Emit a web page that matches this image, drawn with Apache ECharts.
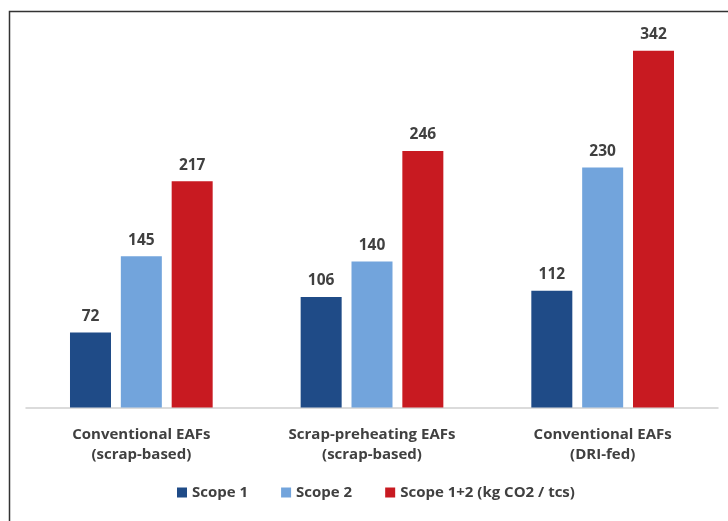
<!DOCTYPE html>
<html>
<head>
<meta charset="utf-8">
<script src="https://cdn.jsdelivr.net/npm/echarts@6/dist/echarts.min.js"></script>
<style>
  html, body { margin: 0; padding: 0; background: #ffffff; }
  #chart { width: 728px; height: 521px; }
</style>
</head>
<body>
<div id="chart"></div>
<script>
// Categories (two-line labels) and emission values per scope
const categories = [
  'Conventional EAFs\n(scrap-based)',
  'Scrap-preheating EAFs\n(scrap-based)',
  'Conventional EAFs\n(DRI-fed)'
];
const scope1 = [72, 106, 112];
const scope2 = [145, 140, 230];
const scope12 = [217, 246, 342];
const seriesNames = ['Scope 1', 'Scope 2', 'Scope 1+2 (kg CO2 / tcs)'];

const FONT = 'Open Sans';
const TEXT = '#404040';

const chart = echarts.init(document.getElementById('chart'), null, { renderer: 'canvas' });

function barSeries(name, data, color) {
  return {
    name: name,
    type: 'bar',
    data: data,
    barWidth: 41,
    barGap: '24%',
    itemStyle: { color: color },
    label: {
      show: true,
      position: 'top',
      distance: 8,
      color: TEXT,
      fontFamily: FONT,
      fontSize: 15.5,
      fontWeight: 'bold'
    }
  };
}

chart.setOption({
  animation: false,
  backgroundColor: '#ffffff',
  graphic: [{
    type: 'rect',
    left: 7,
    top: 9,
    shape: { width: 760, height: 560 },
    style: { fill: 'none', stroke: '#333333', lineWidth: 1.5 },
    silent: true,
    z: 100
  }],
  grid: { left: 26, right: 10, top: 32, height: 375.5 },
  legend: {
    bottom: 16,
    left: 172,
    itemWidth: 10,
    itemHeight: 10,
    itemGap: 33,
    icon: 'rect',
    textStyle: { color: TEXT, fontFamily: FONT, fontSize: 15, fontWeight: 'bold' },
    data: seriesNames
  },
  xAxis: {
    type: 'category',
    data: categories,
    axisLine: { lineStyle: { color: '#d0d0d0', width: 1.5 } },
    axisTick: { show: false },
    axisLabel: {
      color: TEXT,
      fontFamily: FONT,
      fontSize: 15,
      fontWeight: 'bold',
      lineHeight: 20,
      margin: 17
    }
  },
  yAxis: {
    type: 'value',
    min: 0,
    max: 360,
    show: false
  },
  series: [
    barSeries(seriesNames[0], scope1, '#1f4b87'),
    barSeries(seriesNames[1], scope2, '#72a4dc'),
    barSeries(seriesNames[2], scope12, '#c81a21')
  ]
});
</script>
</body>
</html>
